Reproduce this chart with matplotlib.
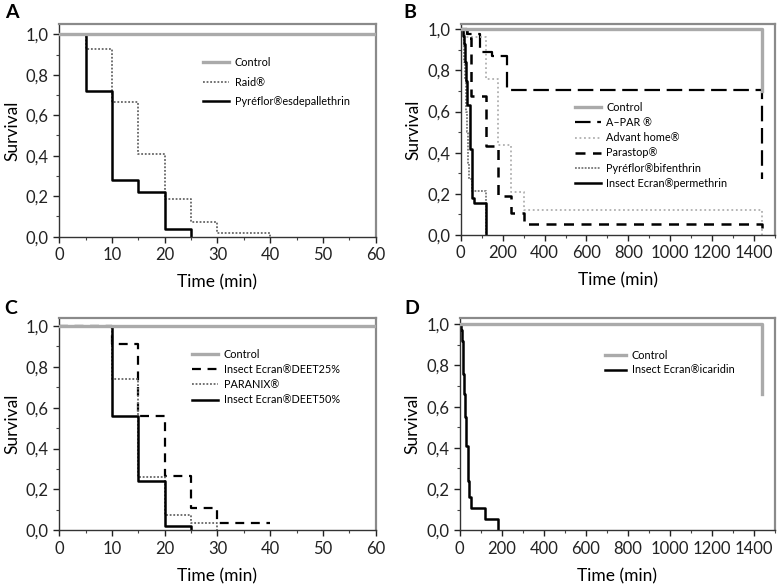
"""
Survival curves (Kaplan-Meier style) for four groups of repellent/insecticide tests.
"""

import matplotlib
matplotlib.use('Agg')
import matplotlib.pyplot as plt
from matplotlib.ticker import MultipleLocator

plt.rcParams['font.family'] = ['Lato', 'DejaVu Sans']

# ---- panel A (0-60 min) ----
ctrl_a_t = [0, 60]
ctrl_a_s = [1.0, 1.0]
raid_t = [0, 5, 10, 15, 20, 25, 30, 40]
raid_s = [1.0, 0.926, 0.667, 0.407, 0.185, 0.074, 0.019, 0.0]
esdep_t = [0, 5, 10, 15, 20, 25]
esdep_s = [1.0, 0.72, 0.28, 0.22, 0.04, 0.0]

# ---- panel B (0-1440 min) ----
ctrl_b_t = [0, 1440]
ctrl_b_s = [1.0, 0.70]
apar_t = [0, 30, 90, 150, 220, 1440]
apar_s = [1.0, 0.975, 0.892, 0.872, 0.705, 0.27]
advant_t = [0, 20, 120, 180, 240, 300, 1440]
advant_s = [1.0, 0.963, 0.757, 0.438, 0.211, 0.122, 0.0]
parastop_t = [0, 30, 50, 120, 180, 240, 300, 1440]
parastop_s = [1.0, 0.96, 0.675, 0.435, 0.19, 0.105, 0.052, 0.0]
bifen_t = [0, 15, 20, 25, 30, 35, 40, 55, 120]
bifen_s = [1.0, 0.84, 0.76, 0.60, 0.50, 0.35, 0.27, 0.215, 0.0]
permeth_t = [0, 10, 15, 20, 25, 30, 45, 55, 65, 120]
permeth_s = [1.0, 0.97, 0.93, 0.84, 0.75, 0.63, 0.42, 0.18, 0.155, 0.0]

# ---- panel C (0-60 min) ----
ctrl_c_t = [0, 60]
ctrl_c_s = [1.0, 1.0]
deet25_t = [0, 10, 15, 20, 25, 30, 40]
deet25_s = [1.0, 0.91, 0.56, 0.265, 0.11, 0.035, 0.035]
paranix_t = [0, 10, 15, 20, 25, 30]
paranix_s = [1.0, 0.74, 0.26, 0.075, 0.037, 0.0]
deet50_t = [0, 10, 15, 20, 25]
deet50_s = [1.0, 0.56, 0.24, 0.02, 0.0]

# ---- panel D (0-1440 min) ----
ctrl_d_t = [0, 1440]
ctrl_d_s = [1.0, 0.66]
icar_t = [0, 5, 10, 15, 20, 25, 30, 40, 45, 55, 120, 180]
icar_s = [1.0, 0.97, 0.92, 0.76, 0.66, 0.55, 0.41, 0.24, 0.16, 0.11, 0.055, 0.0]

y_ticks = [0.0, 0.2, 0.4, 0.6, 0.8, 1.0]
y_labels = ['0,0', '0,2', '0,4', '0,6', '0,8', '1,0']

CTRL = '#aaaaaa'
FRAME = '#8a8a8a'


def style_axes(ax, xmax, xmajor, xminor, ytop):
    ax.set_xlim(0, xmax)
    ax.set_ylim(0, ytop)
    ax.xaxis.set_major_locator(MultipleLocator(xmajor))
    ax.xaxis.set_minor_locator(MultipleLocator(xminor))
    ax.set_yticks(y_ticks)
    ax.set_yticklabels(y_labels)
    ax.yaxis.set_minor_locator(MultipleLocator(0.1))
    ax.tick_params(which='major', direction='out', length=4, width=1, labelsize=12, colors='#222')
    ax.tick_params(which='minor', direction='out', length=2.5, width=0.8, colors='#444')
    for s in ['top', 'right']:
        ax.spines[s].set_color(FRAME)
        ax.spines[s].set_linewidth(1.6)
    for s in ['left', 'bottom']:
        ax.spines[s].set_color('#333')
        ax.spines[s].set_linewidth(1.0)
    ax.set_xlabel('Time (min)', fontsize=12.5, labelpad=8)
    ax.set_ylabel('Survival', fontsize=12.5, labelpad=4)


def add_legend(ax, anchor, spacing, hlen=2.4):
    ax.legend(loc='upper left', bbox_to_anchor=anchor, frameon=False, fontsize=7.8,
              handlelength=hlen, handletextpad=0.5, labelspacing=spacing,
              borderpad=0, borderaxespad=0)


fig = plt.figure(figsize=(7.78, 5.85), dpi=100, facecolor='white')

axA = fig.add_axes([0.0762, 0.5954, 0.4067, 0.3636])
axB = fig.add_axes([0.5922, 0.5983, 0.4040, 0.3607])
axC = fig.add_axes([0.0762, 0.0935, 0.4067, 0.3624])
axD = fig.add_axes([0.5909, 0.0935, 0.4053, 0.3624])

# Panel A
axA.step(ctrl_a_t, ctrl_a_s, where='post', color=CTRL, lw=2.4, zorder=4, label='Control')
axA.step(raid_t, raid_s, where='post', color='#666', lw=1.3, linestyle=(0, (1, 1)), label='Raid®')
axA.step(esdep_t, esdep_s, where='post', color='black', lw=1.8, label='Pyréflor®esdepallethrin')
style_axes(axA, 60, 10, 5, 1.051)
add_legend(axA, (0.455, 0.845), 0.8)

# Panel B
axB.step(ctrl_b_t, ctrl_b_s, where='post', color=CTRL, lw=2.4, zorder=4, label='Control')
axB.step(apar_t, apar_s, where='post', color='black', lw=1.6, dashes=(7, 3), label='A–PAR ®')
axB.step(advant_t, advant_s, where='post', color='#b0b0b0', lw=1.3, linestyle=(0, (1, 1.5)), label='Advant home®')
axB.step(parastop_t, parastop_s, where='post', color='black', lw=1.8, dashes=(4, 3), label='Parastop®')
axB.step(bifen_t, bifen_s, where='post', color='#777', lw=1.3, linestyle=(0, (1, 0.8)), label='Pyréflor®bifenthrin')
axB.step(permeth_t, permeth_s, where='post', color='black', lw=1.8, label='Insect Ecran®permethrin')
style_axes(axB, 1500, 200, 100, 1.026)
add_legend(axB, (0.363, 0.63), 0.38)

# Panel C
axC.step(ctrl_c_t, ctrl_c_s, where='post', color=CTRL, lw=2.4, zorder=4, label='Control')
axC.step(deet25_t, deet25_s, where='post', color='black', lw=1.6, dashes=(4, 3), label='Insect Ecran®DEET25%')
axC.step(paranix_t, paranix_s, where='post', color='#666', lw=1.3, linestyle=(0, (1, 1)), label='PARANIX®')
axC.step(deet50_t, deet50_s, where='post', color='black', lw=1.8, label='Insect Ecran®DEET50%')
style_axes(axC, 60, 10, 5, 1.038)
add_legend(axC, (0.42, 0.855), 0.38)

# Panel D
axD.step(ctrl_d_t, ctrl_d_s, where='post', color=CTRL, lw=2.4, zorder=4, label='Control')
axD.step(icar_t, icar_s, where='post', color='black', lw=1.8, label='Insect Ecran®icaridin')
style_axes(axD, 1500, 200, 100, 1.029)
add_legend(axD, (0.46, 0.85), 0.3, hlen=2.0)

for letter, x, y in [('A', 0.006, 0.993), ('B', 0.518, 0.993), ('C', 0.006, 0.488), ('D', 0.52, 0.488)]:
    fig.text(x, y, letter, fontsize=14, fontweight='bold', va='top', ha='left')

fig.savefig('out.png', dpi=100, facecolor='white')
